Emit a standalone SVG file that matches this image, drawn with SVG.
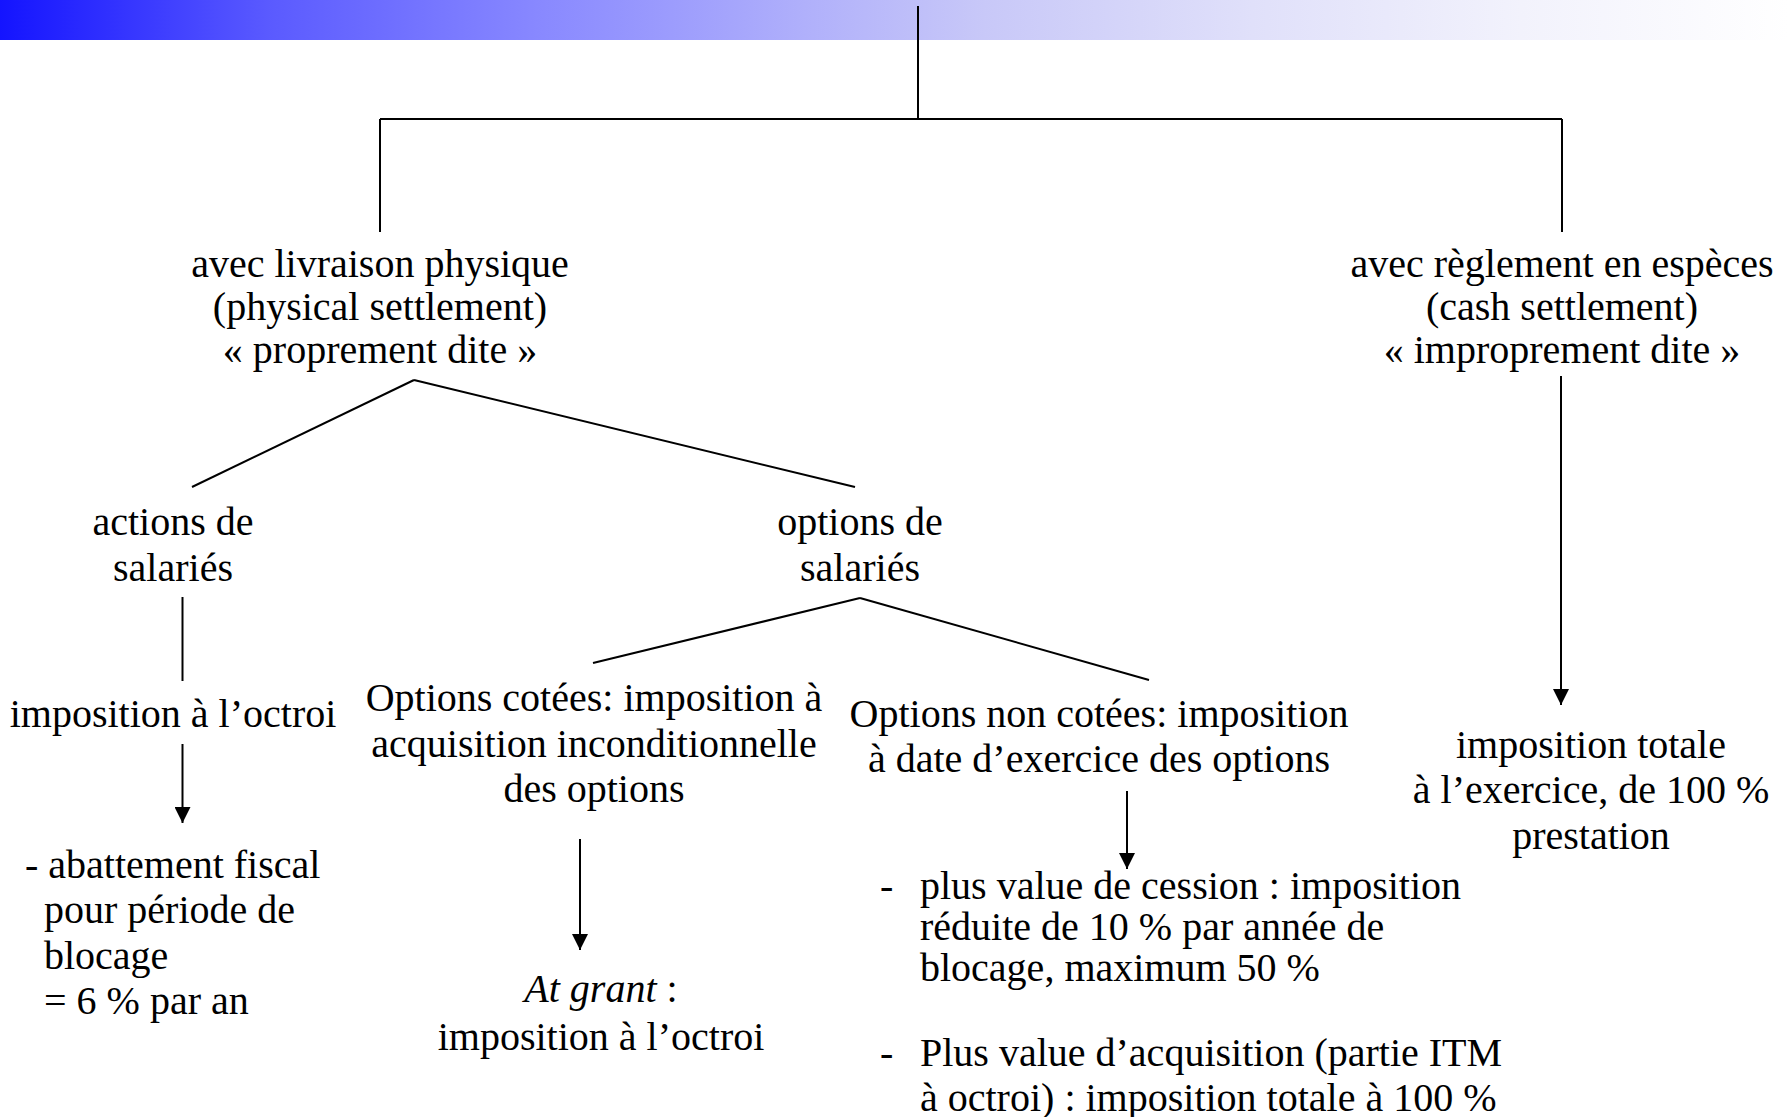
<svg xmlns="http://www.w3.org/2000/svg" width="1789" height="1117" viewBox="0 0 1789 1117">
  <style>
    .t { font-family: "Liberation Serif", "Times New Roman", serif; font-size: 40px; fill: #000; }
    .c { text-anchor: middle; }
    .ln { stroke: #000; stroke-width: 2; fill: none; }
    .ar { stroke: #000; stroke-width: 2; fill: none; marker-end: url(#head); }
  </style>
  <defs>
    <linearGradient id="band" x1="0" y1="0" x2="1" y2="0">
      <stop offset="0" stop-color="#1414ff"/>
      <stop offset="0.15" stop-color="#5a5aff"/>
      <stop offset="0.30" stop-color="#8888ff"/>
      <stop offset="0.45" stop-color="#b0b0fb"/>
      <stop offset="0.55" stop-color="#c8c8f8"/>
      <stop offset="0.70" stop-color="#e0e0fa"/>
      <stop offset="0.85" stop-color="#f2f2fc"/>
      <stop offset="1" stop-color="#ffffff"/>
    </linearGradient>
    <marker id="head" markerUnits="userSpaceOnUse" markerWidth="16" markerHeight="16" refX="16" refY="8" orient="auto">
      <path d="M0,0 L16,8 L0,16 z" fill="#000"/>
    </marker>
  </defs>

  <!-- title band -->
  <rect x="0" y="0" width="1789" height="40" fill="url(#band)"/>

  <g id="connectors">
    <line class="ln" x1="918" y1="6" x2="918" y2="119"/>
    <line class="ln" x1="380" y1="119" x2="1562" y2="119"/>
    <line class="ln" x1="380" y1="119" x2="380" y2="232"/>
    <line class="ln" x1="1562" y1="119" x2="1562" y2="232"/>
    <line class="ln" x1="414" y1="380" x2="192" y2="487"/>
    <line class="ln" x1="414" y1="380" x2="855" y2="487"/>
    <line class="ln" x1="182.5" y1="597" x2="182.5" y2="681"/>
    <line class="ar" x1="182.5" y1="744" x2="182.5" y2="823"/>
    <line class="ln" x1="860" y1="598" x2="593" y2="663"/>
    <line class="ln" x1="860" y1="598" x2="1149" y2="680"/>
    <line class="ar" x1="580" y1="839" x2="580" y2="950"/>
    <line class="ar" x1="1127" y1="791" x2="1127" y2="869"/>
    <line class="ar" x1="1561" y1="376" x2="1561" y2="705"/>
  </g>

  <g id="physical">
    <text class="t c" x="380" y="277">avec livraison physique</text>
    <text class="t c" x="380" y="320">(physical settlement)</text>
    <text class="t c" x="380" y="363">« proprement dite »</text>
  </g>

  <g id="cash">
    <text class="t c" x="1562" y="277">avec règlement en espèces</text>
    <text class="t c" x="1562" y="320">(cash settlement)</text>
    <text class="t c" x="1562" y="363">« improprement dite »</text>
  </g>

  <g id="actions">
    <text class="t c" x="173" y="535">actions de</text>
    <text class="t c" x="173" y="581">salariés</text>
  </g>

  <g id="options">
    <text class="t c" x="860" y="535">options de</text>
    <text class="t c" x="860" y="581">salariés</text>
  </g>

  <g id="actions-tax">
    <text class="t c" x="173" y="727">imposition à l’octroi</text>
  </g>

  <g id="actions-relief">
    <text class="t" x="25" y="878">- abattement fiscal</text>
    <text class="t" x="44" y="923">pour période de</text>
    <text class="t" x="44" y="969">blocage</text>
    <text class="t" x="44" y="1014">= 6 % par an</text>
  </g>

  <g id="listed">
    <text class="t c" x="594" y="711">Options cotées: imposition à</text>
    <text class="t c" x="594" y="757">acquisition inconditionnelle</text>
    <text class="t c" x="594" y="802">des options</text>
  </g>

  <g id="listed-grant">
    <text class="t c" x="601" y="1002"><tspan font-style="italic">At grant</tspan> :</text>
    <text class="t c" x="601" y="1050">imposition à l’octroi</text>
  </g>

  <g id="unlisted">
    <text class="t c" x="1099" y="727">Options non cotées: imposition</text>
    <text class="t c" x="1099" y="772">à date d’exercice des options</text>
  </g>

  <g id="unlisted-gains">
    <text class="t" x="880" y="899">-</text>
    <text class="t" x="920" y="899">plus value de cession : imposition</text>
    <text class="t" x="920" y="940">réduite de 10 % par année de</text>
    <text class="t" x="920" y="981">blocage, maximum 50 %</text>
    <text class="t" x="880" y="1066">-</text>
    <text class="t" x="920" y="1066">Plus value d’acquisition (partie ITM</text>
    <text class="t" x="920" y="1111">à octroi) : imposition totale à 100 %</text>
  </g>

  <g id="cash-tax">
    <text class="t c" x="1591" y="758">imposition totale</text>
    <text class="t c" x="1591" y="803">à l’exercice, de 100 %</text>
    <text class="t c" x="1591" y="849">prestation</text>
  </g>
</svg>
